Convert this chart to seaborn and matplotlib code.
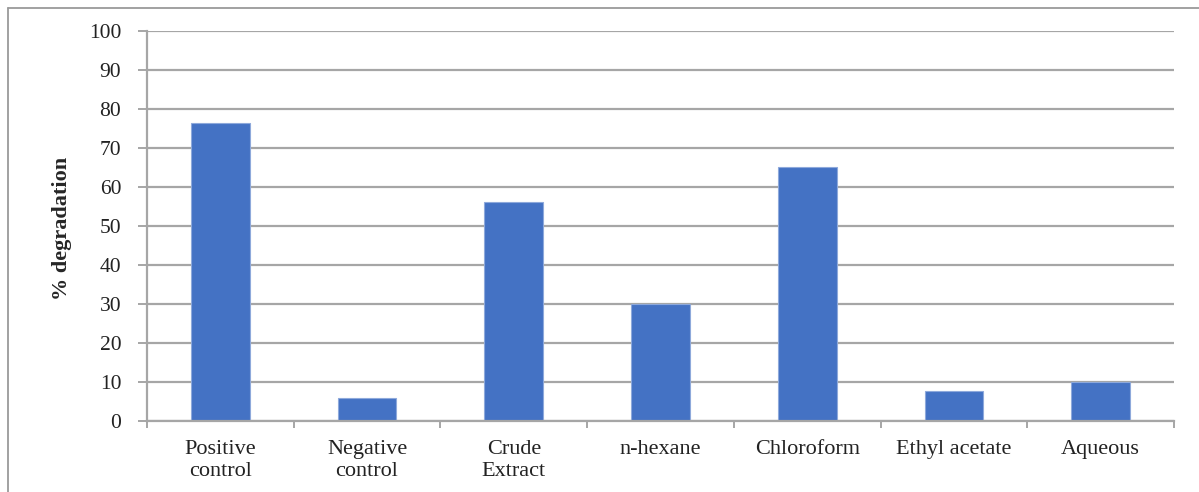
import matplotlib
matplotlib.use("Agg")
import matplotlib.pyplot as plt
from matplotlib.lines import Line2D
import seaborn as sns
import pandas as pd

categories = ["Positive\ncontrol", "Negative\ncontrol", "Crude\nExtract", "n-hexane",
              "Chloroform", "Ethyl acetate", "Aqueous"]
degradation = [76.4, 5.8, 56.1, 29.8, 65.1, 7.6, 9.9]
y_ticks = [0, 10, 20, 30, 40, 50, 60, 70, 80, 90, 100]

df = pd.DataFrame({"sample": categories, "degradation": degradation})

sns.set_theme(style="white")
plt.rcParams["font.family"] = ["Liberation Serif", "DejaVu Serif"]

fig = plt.figure(figsize=(11.99, 4.92), dpi=100)
ax = fig.add_axes([0.1226, 0.1453, 0.8565, 0.7917])

sns.barplot(data=df, x="sample", y="degradation", color="#4472C4",
            saturation=1, width=0.4, ax=ax, edgecolor="#8EA9DB", linewidth=0.8)

ax.set_ylim(0, 100)
ax.set_xlim(-0.5, len(categories) - 0.5)
ax.set_yticks(y_ticks)
ax.set_yticklabels([str(t) for t in y_ticks], fontsize=15.5, color="#222222")
ax.set_xticklabels(categories, fontsize=16, color="#222222", linespacing=1.2)
ax.yaxis.grid(True, color="#a6a6a6", linewidth=1.6)
ax.set_axisbelow(True)

for side in ["top", "right"]:
    ax.spines[side].set_visible(False)
for side in ["left", "bottom"]:
    ax.spines[side].set_color("#a6a6a6")
    ax.spines[side].set_linewidth(1.6)

# y ticks point outward from the left axis
ax.tick_params(axis="y", which="both", left=True, length=6.5, width=1.4,
               color="#a6a6a6", pad=12)
# x ticks sit at category boundaries, labels centred under the bars
ax.tick_params(axis="x", which="major", bottom=False, pad=8)
ax.set_xticks([i - 0.5 for i in range(len(categories) + 1)], minor=True)
ax.tick_params(axis="x", which="minor", bottom=True, length=5, width=1.4,
               color="#a6a6a6")

ax.set_xlabel("")
ax.set_ylabel("% degradation", fontsize=16, fontweight="bold")
ax.yaxis.set_label_coords(-0.073, 0.494)

# chart frame along the top and left edges
fig.add_artist(Line2D([0.0067, 1.0], [0.984, 0.984], transform=fig.transFigure,
                      color="#9a9a9a", linewidth=1.3))
fig.add_artist(Line2D([0.0067, 0.0067], [0.0, 0.984], transform=fig.transFigure,
                      color="#9a9a9a", linewidth=1.3))

fig.savefig("out.png", dpi=100)
